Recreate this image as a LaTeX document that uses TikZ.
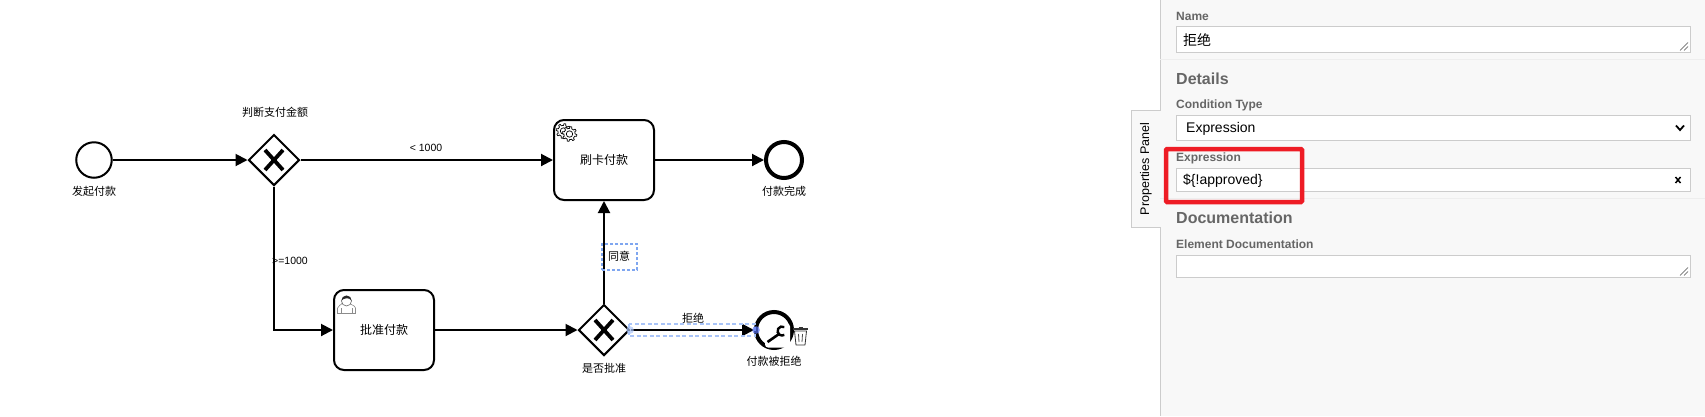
\documentclass[tikz,border=0pt]{standalone}
\usepackage{fontspec}
\setmainfont{Liberation Sans}
\newfontfamily\cjk{Noto Sans CJK SC}
\usetikzlibrary{shapes.geometric,arrows.meta}
\definecolor{panelbg}{HTML}{F8F8F8}
\definecolor{panelline}{HTML}{CCCCCC}
\definecolor{panelsep}{HTML}{EEEEEE}
\definecolor{fieldline}{HTML}{CCCCCC}
\definecolor{paneltext}{HTML}{666666}
\definecolor{selblue}{HTML}{A9C4F8}
\definecolor{selblued}{HTML}{7FA6F0}
\definecolor{redmark}{HTML}{EE1C25}
\newcommand{\gearicon}[2]{%
  \draw[black,line width=.7pt,fill=white,line join=round,samples=97,domain=0:360,variable=\t]
    plot ({#1+(sin(8*\t)>0?7.4:5.6)*cos(\t)},{#2+(sin(8*\t)>0?7.4:5.6)*sin(\t)}) -- cycle;
  \draw[black,line width=.7pt,fill=white] (#1,#2) circle[radius=3.2];}
\newcommand{\gatewayx}[1]{%
  \draw[line width=3.8pt] ([shift={(-9,-10)}]#1.center) -- ([shift={(9,10)}]#1.center)
    ([shift={(9,-10)}]#1.center) -- ([shift={(-9,10)}]#1.center);}
\tikzset{
  x=1pt,y=-1pt,
  cn/.style={font=\cjk\fontsize{11}{13}\selectfont,text=black,inner sep=0pt},
  tasktext/.style={font=\cjk\fontsize{12}{14}\selectfont,text=black,inner sep=0pt},
  lat/.style={font=\fontsize{10.5}{12}\selectfont,text=black,inner sep=0pt},
  flow/.style={draw=black,line width=2pt,-{Triangle[length=12pt,width=12pt]}},
  startev/.style={circle,draw=black,line width=2pt,minimum size=35.5pt,inner sep=0pt,fill=white},
  endev/.style={circle,draw=black,line width=4pt,minimum size=36pt,inner sep=0pt,fill=white},
  gate/.style={diamond,draw=black,line width=2pt,minimum width=51pt,minimum height=51pt,inner sep=0pt,fill=white},
  taskbox/.style={rectangle,rounded corners=10pt,draw=black,line width=2pt,minimum width=100pt,minimum height=80pt,inner sep=0pt,fill=white},
  field/.style={draw=fieldline,line width=1pt,fill=white},
  plabel/.style={font=\bfseries\fontsize{12}{14}\selectfont,text=paneltext,anchor=west,inner sep=0pt},
  phead/.style={font=\bfseries\fontsize{16}{18}\selectfont,text=paneltext,anchor=west,inner sep=0pt},
  pvalue/.style={font=\fontsize{14}{16}\selectfont,text=black,anchor=west,inner sep=0pt},
  handle/.style={draw=black!70,line width=.6pt},
}
\begin{document}
\begin{tikzpicture}
\useasboundingbox (0,0) rectangle (1705,416);
\fill[white] (0,0) rectangle (1705,416);
% diagram
\node[startev] (start) at (94,160) {};
\node[gate] (gw1) at (274,160) {};
\node[taskbox] (card) at (604,160) {};
\node[endev] (done) at (784,160) {};
\node[taskbox] (approve) at (384,330) {};
\node[gate] (gw2) at (604,330) {};
\node[endev] (rej) at (774,330) {};
\gatewayx{gw1}
\gatewayx{gw2}
\draw[flow] (start) -- (gw1);
\draw[flow] (gw1) -- (card);
\draw[flow] (gw1.south) |- (approve.west);
\draw[flow] (approve) -- (gw2);
\draw[flow] (gw2) -- (card);
\draw[flow] (card) -- (done);
\draw[flow] (gw2) -- (rej);
% selection marks
\node[draw=selblued,line width=1.6pt,dash pattern=on 3pt off 2pt,minimum width=35pt,minimum height=26pt,inner sep=0pt] (agreebox) at (619.5,257) {};
\draw[selblue,line width=1.6pt,dash pattern=on 4pt off 2.5pt] (629,324) rectangle (755,336);
\fill[selblue,opacity=.7] (630,330) circle[radius=3.8];
\fill[selblued!70!blue,opacity=.7] (756,330) circle[radius=3.8];
% wrench pad
\fill[white,rounded corners=3pt] (765,323.5) rectangle (790,347.5);
\draw[line width=2.6pt] (767.5,342) -- (779,334);
\draw[line width=2.4pt] (784.3,327.1) arc[start angle=-60,end angle=-300,radius=4.5];
% trash
\draw[black!80,line width=.8pt,line join=round] (794.5,331) -- (796,345) -- (805,345) -- (806.5,331) -- cycle;
\draw[black!80,line width=1.3pt] (793,329) -- (808,329);
\draw[black!80,line width=.8pt] (798.5,327) -- (802.5,327);
\draw[black!70,line width=.8pt] (798.5,334) -- (799,342) (802.5,334) -- (802,342);
% user icon
\draw[black!45,line width=.6pt,fill=white] (337.5,313.5) -- (337.5,308) .. controls (338,305) and (342,305) .. (342,303) -- (350,303) .. controls (350,305) and (355,305) .. (355.5,308) -- (355.5,313.5) -- cycle;
\draw[black!45,line width=.5pt] (341,313.5) -- (341,308) (352,313.5) -- (352,308);
\draw[black!60,line width=.6pt,fill=white] (346.5,301) circle[radius=5];
\fill[black!85] (341.5,300.5) arc[start angle=180,end angle=360,radius=5] .. controls (349,297) and (344,298) .. cycle;
% gear icon
\gearicon{563.5}{131}
\gearicon{569.5}{134}
% texts
\node[cn] (lgw1) at (275,112) {判断支付金额};
\node[cn] (lstart) at (94,191) {发起付款};
\node[tasktext] (lcard) at (604,160) {刷卡付款};
\node[tasktext] (lapprove) at (384,330) {批准付款};
\node[cn] (ldone) at (784,191) {付款完成};
\node[cn] (lagree) at (619,256) {同意};
\node[cn] (lgw2) at (604,368) {是否批准};
\node[cn] (lrefuse) at (693,318) {拒绝};
\node[cn] (lrej) at (774,361) {付款被拒绝};
\node[lat] (llt) at (426,148) {< 1000};
\node[lat] (lge) at (290,261) {>=1000};
% panel
\fill[panelbg] (1160,0) rectangle (1705,416);
\draw[panelline,line width=1pt,fill=panelbg] (1160,0) -- (1160,110.5) -- (1131,110.5) -- (1131,227) -- (1160,227) -- (1160,416);
\draw[panelsep,line width=1pt] (1160,59.5) -- (1705,59.5) (1160,198.5) -- (1705,198.5);
\node[rotate=90,font=\fontsize{12.5}{14}\selectfont,text=black,inner sep=0pt] (tabtext) at (1146,169) {Properties Panel};
\node[plabel] (lname) at (1176,16) {Name};
\draw[field] (1176,26.5) rectangle (1690,52.5);
\node[pvalue,font=\cjk\fontsize{14}{16}\selectfont] (vname) at (1183,40) {拒绝};
\node[phead] (ldetails) at (1176,79) {Details};
\node[plabel] (lcond) at (1176,105.5) {Condition Type};
\draw[field] (1176,115.5) rectangle (1690,140.5);
\node[pvalue] (vcond) at (1186,129) {Expression};
\draw[black,line width=1.8pt] (1676,125.5) -- (1680,130) -- (1684,125.5);
\node[plabel,font=\fontsize{12}{14}\selectfont\bfseries] (lexpr) at (1176,158.5) {Expression};
\draw[field] (1176,168.5) rectangle (1690,191.5);
\node[pvalue] (vexpr) at (1183,180.5) {\$\{!approved\}};
\draw[black,line width=1.5pt] (1675.5,177) -- (1680.5,183) (1680.5,177) -- (1675.5,183);
\node[phead] (ldoc) at (1176,218) {Documentation};
\node[plabel] (ledoc) at (1176,244) {Element Documentation};
\draw[field] (1176,255) rectangle (1690,277.5);
\draw[handle] (1680,50.5) -- (1688,42.5) (1684,50.5) -- (1688,46.5);
\draw[handle] (1680,275.5) -- (1688,267.5) (1684,275.5) -- (1688,271.5);
% red highlight
\draw[redmark,line width=4.5pt,rounded corners=1pt] (1166,149) rectangle (1302,202);
\end{tikzpicture}
\end{document}
